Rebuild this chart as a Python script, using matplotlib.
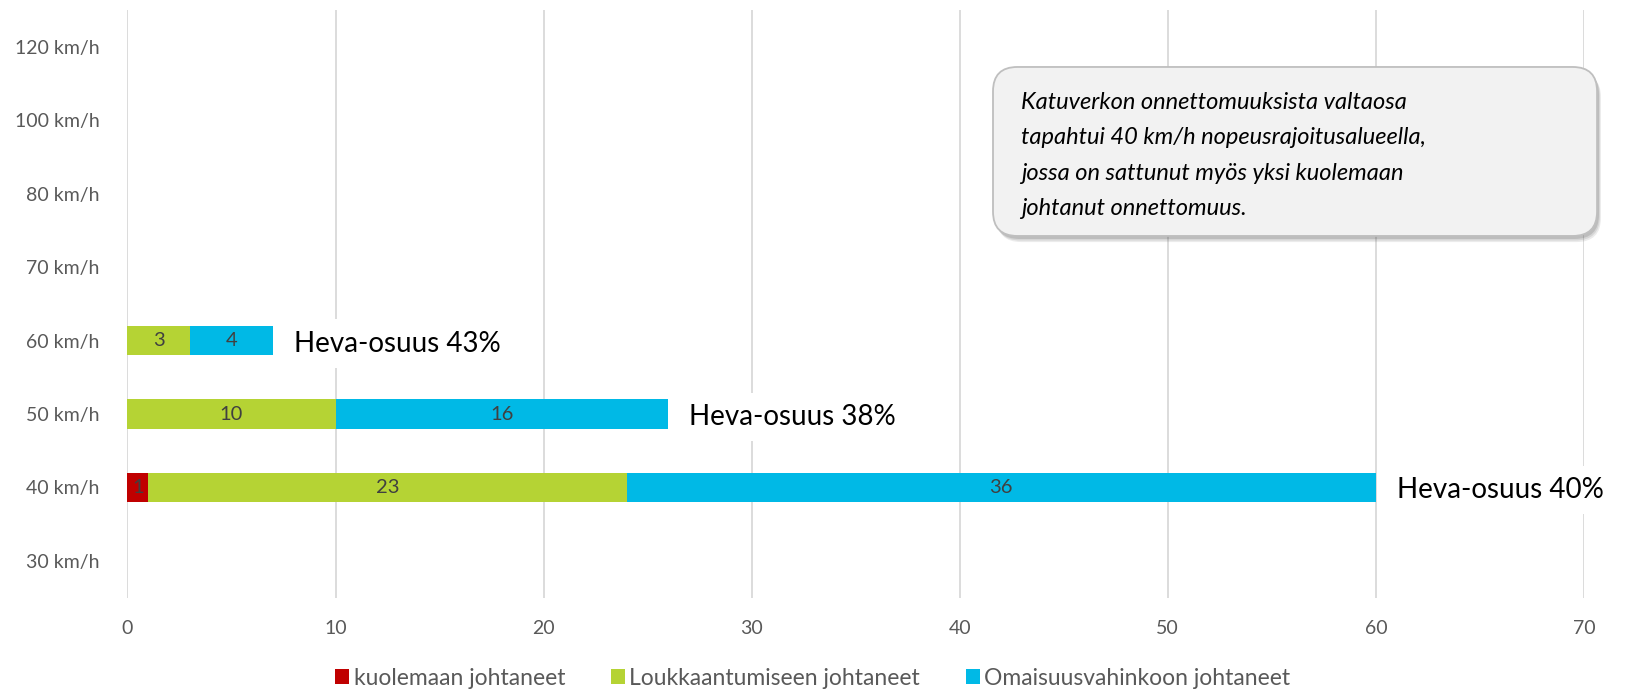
import numpy as np
import matplotlib.pyplot as plt
from matplotlib.patches import FancyBboxPatch

plt.rcParams['font.family'] = ['Lato', 'DejaVu Sans']

speeds = ['30 km/h', '40 km/h', '50 km/h', '60 km/h', '70 km/h', '80 km/h', '100 km/h', '120 km/h']
fatal = [0, 1, 0, 0, 0, 0, 0, 0]
injury = [0, 23, 10, 3, 0, 0, 0, 0]
damage = [0, 36, 16, 4, 0, 0, 0, 0]
series_names = ['kuolemaan johtaneet', 'Loukkaantumiseen johtaneet', 'Omaisuusvahinkoon johtaneet']
colors = ['#c00000', '#b5d334', '#00b9e6']
heva_labels = {1: 'Heva-osuus 40%', 2: 'Heva-osuus 38%', 3: 'Heva-osuus 43%'}
note = ('Katuverkon onnettomuuksista valtaosa\n'
        'tapahtui 40 km/h nopeusrajoitusalueella,\n'
        'jossa on sattunut myös yksi kuolemaan\n'
        'johtanut onnettomuus.')

fig = plt.figure(figsize=(16.26, 6.94), dpi=100)
ax = fig.add_axes([0.0784, 0.139, 0.8957, 0.846])

y = np.arange(len(speeds))
left = np.zeros(len(speeds))
for vals, name, c in zip([fatal, injury, damage], series_names, colors):
    vals = np.array(vals)
    bars = ax.barh(y, vals, left=left, height=0.4, color=c, label=name)
    labels = [str(v) if v > 0 else '' for v in vals]
    ax.bar_label(bars, labels=labels, label_type='center', color='#404040', fontsize=14.5)
    left = left + vals

for i, txt in heva_labels.items():
    ax.text(left[i] + 1.0, y[i] - 0.04, txt, va='center', ha='left', fontsize=20, color='black',
            bbox=dict(facecolor='white', edgecolor='none', pad=8))

ax.set_xlim(0, 70)
ax.set_ylim(-0.5, len(speeds) - 0.5)
ax.set_xticks(range(0, 71, 10))
ax.set_yticks(y)
ax.set_yticklabels(speeds)
ax.grid(axis='x', color='#d9d9d9', linewidth=1.3)
ax.set_axisbelow(True)
for s in ax.spines.values():
    s.set_visible(False)
ax.tick_params(axis='x', length=0, pad=16, labelsize=14, labelcolor='#595959')
ax.tick_params(axis='y', length=0, pad=20, labelsize=14, labelcolor='#595959')

# note box with shadow
bx, by, bw, bh = 0.6107, 0.660, 0.3715, 0.2435
asp = 1626 / 694
for k, a in enumerate([0.10, 0.12, 0.16]):
    d = 0.004 - 0.001 * k
    shadow = FancyBboxPatch((bx + d * 0.6, by - d * 2.2), bw, bh, boxstyle='round,pad=0,rounding_size=0.015',
                            mutation_aspect=asp, transform=fig.transFigure, facecolor='#404040',
                            edgecolor='none', alpha=a, zorder=5)
    fig.add_artist(shadow)
box = FancyBboxPatch((bx, by), bw, bh, boxstyle='round,pad=0,rounding_size=0.015',
                     mutation_aspect=asp, transform=fig.transFigure, facecolor='#f2f2f2',
                     edgecolor='#bfbfbf', linewidth=1.3, zorder=6)
fig.add_artist(box)
fig.text(0.628, 0.868, note, ha='left', va='top', fontsize=17, style='italic', color='black',
         linespacing=1.85, zorder=7)

fig.legend(loc='lower center', bbox_to_anchor=(0.5, -0.022), ncol=3, frameon=False, fontsize=16.5,
           handlelength=0.6, handleheight=0.6, handletextpad=0.2, columnspacing=2.0,
           labelcolor='#595959')

fig.savefig('out.png', dpi=100)
